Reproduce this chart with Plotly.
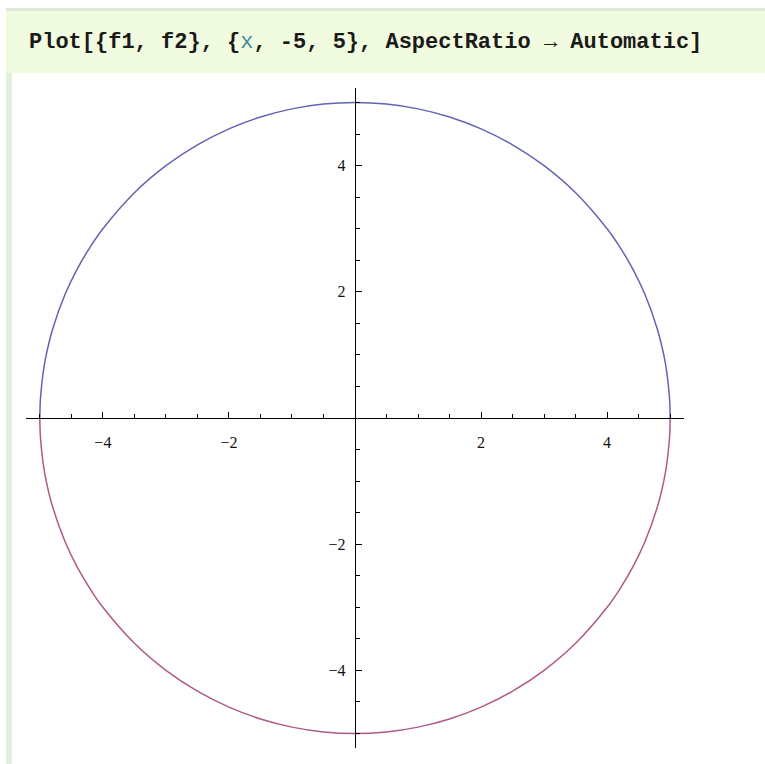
import plotly.graph_objects as go

# Sampled points of f1 (upper half) and f2 (lower half) on x in [-5, 5]
x_vals = [-5.0, -4.998, -4.99, -4.95, -4.9, -4.8, -4.6, -4.4, -4.2, -4.0, -3.5, -3.0,
          -2.5, -2.0, -1.5, -1.0, -0.5, 0.0, 0.5, 1.0, 1.5, 2.0, 2.5, 3.0, 3.5, 4.0,
          4.2, 4.4, 4.6, 4.8, 4.9, 4.95, 4.99, 4.998, 5.0]
f1_vals = [0.0, 0.141, 0.316, 0.705, 0.995, 1.4, 1.96, 2.375, 2.713, 3.0, 3.571, 4.0,
           4.33, 4.583, 4.77, 4.899, 4.975, 5.0, 4.975, 4.899, 4.77, 4.583, 4.33, 4.0, 3.571, 3.0,
           2.713, 2.375, 1.96, 1.4, 0.995, 0.705, 0.316, 0.141, 0.0]
f2_vals = [0.0, -0.141, -0.316, -0.705, -0.995, -1.4, -1.96, -2.375, -2.713, -3.0, -3.571, -4.0,
           -4.33, -4.583, -4.77, -4.899, -4.975, -5.0, -4.975, -4.899, -4.77, -4.583, -4.33, -4.0, -3.571, -3.0,
           -2.713, -2.375, -1.96, -1.4, -0.995, -0.705, -0.316, -0.141, 0.0]

major_ticks = [-4, -2, 2, 4]
minor_ticks = [-5, -4.5, -3.5, -3, -2.5, -1.5, -1, -0.5, 0.5, 1, 1.5, 2.5, 3, 3.5, 4.5, 5]

W, H = 765, 764
ORIGIN_PX = (355, 418)  # pixel location of (0, 0)

fig = go.Figure()
fig.add_trace(go.Scatter(x=x_vals, y=f1_vals, mode="lines", line_shape="spline",
                         line=dict(color="#6363b3", width=1.5), hoverinfo="skip"))
fig.add_trace(go.Scatter(x=x_vals, y=f2_vals, mode="lines", line_shape="spline",
                         line=dict(color="#ad5a88", width=1.5), hoverinfo="skip"))

tick_font = dict(family="Liberation Serif", size=16, color="#111")

fig.update_layout(
    width=W, height=H,
    margin=dict(l=0, r=0, t=0, b=0),
    paper_bgcolor="white", plot_bgcolor="white",
    showlegend=False,
    xaxis=dict(
        domain=[26 / W, 684 / W], range=[-5.22, 5.22],
        anchor="free", position=(H - ORIGIN_PX[1]) / H,
        showline=True, linecolor="black", linewidth=1.4,
        showgrid=False, zeroline=False,
        ticks="inside", ticklen=6, tickwidth=1.4, tickcolor="black",
        tickmode="array", tickvals=major_ticks,
        ticklabelstandoff=10,
        minor=dict(ticks="inside", ticklen=4, tickwidth=1.2, tickcolor="black",
                   tickmode="array", tickvals=minor_ticks, showgrid=False),
        tickfont=tick_font, automargin=False,
    ),
    yaxis=dict(
        domain=[16 / H, 676 / H], range=[-5.23, 5.23],
        anchor="free", position=ORIGIN_PX[0] / W,
        showline=True, linecolor="black", linewidth=1.4,
        showgrid=False, zeroline=False,
        ticks="inside", ticklen=6, tickwidth=1.4, tickcolor="black",
        tickmode="array", tickvals=major_ticks,
        ticklabelstandoff=6,
        minor=dict(ticks="inside", ticklen=4, tickwidth=1.2, tickcolor="black",
                   tickmode="array", tickvals=minor_ticks, showgrid=False),
        tickfont=tick_font, automargin=False,
    ),
)

# Notebook cell frame: input-cell header band and the left cell bracket strip
fig.add_shape(type="rect", xref="paper", yref="paper", layer="below",
              x0=6 / W, x1=1.0, y0=(H - 73) / H, y1=(H - 8) / H,
              fillcolor="#f1fbdf", line=dict(width=0))
fig.add_shape(type="rect", xref="paper", yref="paper", layer="below",
              x0=6 / W, x1=1.0, y0=(H - 11) / H, y1=(H - 8) / H,
              fillcolor="#dbe9d6", line=dict(width=0))
fig.add_shape(type="rect", xref="paper", yref="paper", layer="below",
              x0=6 / W, x1=12 / W, y0=0, y1=(H - 73) / H,
              fillcolor="#e0f0dc", line=dict(width=0))

title_html = ("<b>Plot[{f1, f2}, {</b><span style='color:#3f8c9c'>x</span><b>, -5, 5}, "
              "AspectRatio → Automatic]</b>")
fig.add_annotation(xref="paper", yref="paper", x=27 / W, y=(H - 42) / H,
                   xanchor="left", yanchor="middle", showarrow=False,
                   text=title_html,
                   font=dict(family="Liberation Mono", size=22, color="#1a1a1a"))

fig.write_html("out.html")
